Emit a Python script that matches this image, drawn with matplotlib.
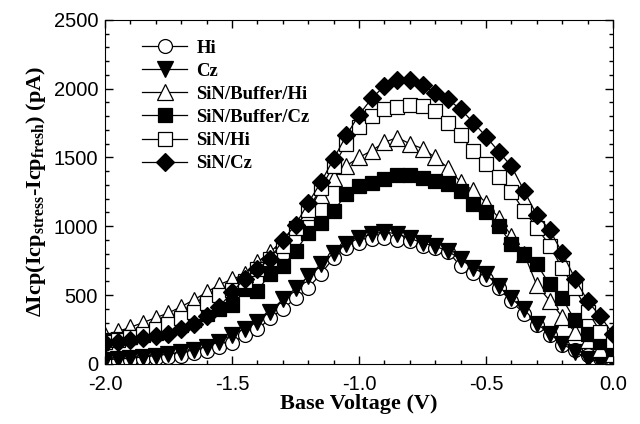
import numpy as np
import matplotlib.pyplot as plt
from matplotlib.ticker import MultipleLocator

# base voltage sweep, 0.05 V steps
vb = [-2.0, -1.95, -1.9, -1.85, -1.8, -1.75, -1.7, -1.65, -1.6, -1.55,
      -1.5, -1.45, -1.4, -1.35, -1.3, -1.25, -1.2, -1.15, -1.1, -1.05,
      -1.0, -0.95, -0.9, -0.85, -0.8, -0.75, -0.7, -0.65, -0.6, -0.55,
      -0.5, -0.45, -0.4, -0.35, -0.3, -0.25, -0.2, -0.15, -0.1, -0.05, 0.0]

hi = [20, 22, 28, 35, 42, 50, 60, 75, 95, 125,
      150, 210, 250, 330, 400, 475, 550, 655, 770, 840,
      875, 905, 912, 900, 892, 860, 840, 815, 710, 660,
      620, 548, 453, 365, 285, 212, 140, 100, 66, 45, 20]
cz = [30, 35, 40, 50, 60, 70, 85, 100, 125, 160,
      212, 256, 307, 380, 468, 548, 636, 724, 805, 870,
      914, 943, 960, 943, 914, 877, 855, 819, 760, 694,
      650, 563, 475, 395, 292, 219, 146, 88, 37, 15, 15]
sin_buf_hi = [210, 235, 265, 300, 335, 370, 415, 465, 520, 575,
              615, 650, 740, 810, 900, 1000, 1100, 1230, 1350, 1440,
              1500, 1550, 1610, 1645, 1600, 1565, 1500, 1425, 1320, 1260,
              1170, 1060, 930, 797, 570, 460, 340, 230, 170, 110, 70]
sin_buf_cz = [170, 180, 195, 210, 225, 250, 280, 320, 360, 400,
              430, 545, 530, 655, 710, 820, 950, 1025, 1110, 1235,
              1295, 1315, 1345, 1375, 1375, 1350, 1330, 1305, 1255, 1165,
              1100, 1005, 870, 797, 724, 577, 475, 315, 215, 160, 105]
sin_hi = [160, 175, 195, 220, 250, 290, 330, 380, 440, 500,
          540, 600, 690, 760, 860, 990, 1120, 1280, 1440, 1600,
          1720, 1800, 1850, 1870, 1880, 1875, 1840, 1750, 1660, 1545,
          1455, 1355, 1250, 1110, 990, 860, 694, 548, 380, 234, 165]
sin_cz = [150, 160, 170, 185, 200, 220, 255, 290, 345, 415,
          520, 620, 690, 760, 900, 1010, 1170, 1320, 1490, 1660,
          1810, 1930, 2020, 2065, 2060, 2025, 1966, 1922, 1850, 1754,
          1652, 1542, 1435, 1257, 1080, 975, 805, 620, 455, 345, 215]

labels = ["Hi", "Cz", "SiN/Buffer/Hi", "SiN/Buffer/Cz", "SiN/Hi", "SiN/Cz"]

plt.rcParams['mathtext.fontset'] = 'custom'
plt.rcParams['mathtext.rm'] = 'Liberation Serif:bold'
plt.rcParams['mathtext.it'] = 'Liberation Serif:bold'
plt.rcParams['mathtext.bf'] = 'Liberation Serif:bold'

fig = plt.figure(figsize=(6.4, 4.24), dpi=100)
ax = fig.add_axes([0.164, 0.142, 0.794, 0.811])

style = dict(color='k', lw=0.9, mec='k', mew=0.9)
ax.plot(vb, hi, marker='o', mfc='white', ms=10, label=labels[0], **style)
ax.plot(vb, cz, marker='v', mfc='k', ms=11, label=labels[1], **style)
ax.plot(vb, sin_buf_hi, marker='^', mfc='white', ms=11, label=labels[2], **style)
ax.plot(vb, sin_buf_cz, marker='s', mfc='k', ms=10, label=labels[3], **style)
ax.plot(vb, sin_hi, marker='s', mfc='white', ms=10, label=labels[4], **style)
ax.plot(vb, sin_cz, marker='D', mfc='k', ms=9, label=labels[5], **style)

ax.set_xlim(-2.0, 0.0)
ax.set_ylim(0, 2500)
ax.xaxis.set_major_locator(MultipleLocator(0.5))
ax.xaxis.set_minor_locator(MultipleLocator(0.1))
ax.yaxis.set_major_locator(MultipleLocator(500))
ax.yaxis.set_minor_locator(MultipleLocator(100))
ax.xaxis.set_major_formatter(plt.FormatStrFormatter('%.1f'))
ax.tick_params(which='both', direction='in', top=True, right=True, width=1)
ax.tick_params(which='major', length=6)
ax.tick_params(which='minor', length=3)
ax.tick_params(axis='x', pad=8)
ax.tick_params(axis='y', pad=5)
for lab in ax.get_xticklabels() + ax.get_yticklabels():
    lab.set_fontfamily('Liberation Sans')
    lab.set_fontsize(14.5)

ax.set_xlabel('Base Voltage (V)', fontfamily='Liberation Serif',
              fontweight='bold', fontsize=16, labelpad=0)
ax.set_ylabel(r'$\Delta$Icp(Icp$_{stress}$-Icp$_{fresh}$) (pA)',
              fontfamily='Liberation Serif', fontweight='bold', fontsize=16)

ax.legend(loc='upper left', bbox_to_anchor=(0.073, 0.943), frameon=False,
          borderaxespad=0, borderpad=0, handlelength=2.4, handletextpad=0.5,
          labelspacing=0.32,
          prop=dict(family='Liberation Serif', weight='bold', size=13.5))

plt.savefig('out.png', dpi=100)
